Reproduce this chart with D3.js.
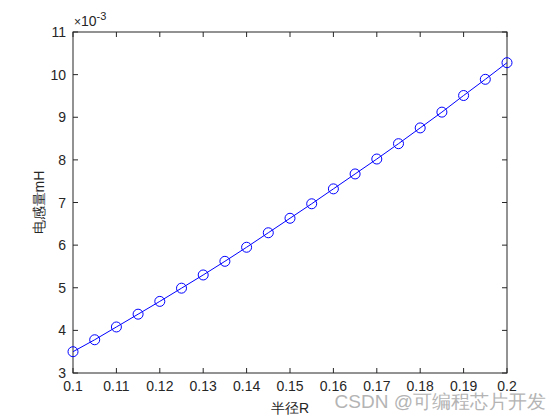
<!DOCTYPE html>
<html>
<head>
<meta charset="utf-8">
<script src="https://cdn.jsdelivr.net/npm/d3@7"></script>
<style>
  body { margin: 0; background: #fff; }
  text { font-family: "Liberation Sans", Arial, sans-serif; }
</style>
</head>
<body>
<svg id="chart" width="560" height="420"></svg>
<script>
const radius = [0.1, 0.105, 0.11, 0.115, 0.12, 0.125, 0.13, 0.135, 0.14, 0.145, 0.15,
  0.155, 0.16, 0.165, 0.17, 0.175, 0.18, 0.185, 0.19, 0.195, 0.2];
// inductance in units of 1e-3
const inductance = [3.50, 3.78, 4.08, 4.38, 4.68, 4.99, 5.30, 5.62, 5.95, 6.29, 6.63,
  6.97, 7.32, 7.67, 8.02, 8.38, 8.75, 9.12, 9.51, 9.89, 10.28];
const xTicks = [0.1, 0.11, 0.12, 0.13, 0.14, 0.15, 0.16, 0.17, 0.18, 0.19, 0.2];
const yTicks = [3, 4, 5, 6, 7, 8, 9, 10, 11];

const svg = d3.select('#chart');
const plotL = 73, plotR = 507, plotT = 32, plotB = 373;

const x = d3.scaleLinear().domain([0.1, 0.2]).range([plotL, plotR]);
const y = d3.scaleLinear().domain([3, 11]).range([plotB, plotT]);

const tickLen = 5;
const axisColor = '#262626';

// box
svg.append('rect')
  .attr('x', plotL).attr('y', plotT)
  .attr('width', plotR - plotL).attr('height', plotB - plotT)
  .attr('fill', 'none').attr('stroke', axisColor).attr('stroke-width', 1);

// x ticks (bottom and top, inward)
xTicks.forEach(t => {
  svg.append('line')
    .attr('x1', x(t)).attr('x2', x(t))
    .attr('y1', plotB).attr('y2', plotB - tickLen)
    .attr('stroke', axisColor);
  svg.append('line')
    .attr('x1', x(t)).attr('x2', x(t))
    .attr('y1', plotT).attr('y2', plotT + tickLen)
    .attr('stroke', axisColor);
  svg.append('text')
    .attr('x', x(t)).attr('y', plotB + 18)
    .attr('text-anchor', 'middle')
    .attr('font-size', 14).attr('fill', axisColor)
    .text(d3.format('')(t));
});

// y ticks (left and right, inward)
yTicks.forEach(t => {
  svg.append('line')
    .attr('x1', plotL).attr('x2', plotL + tickLen)
    .attr('y1', y(t)).attr('y2', y(t))
    .attr('stroke', axisColor);
  svg.append('line')
    .attr('x1', plotR).attr('x2', plotR - tickLen)
    .attr('y1', y(t)).attr('y2', y(t))
    .attr('stroke', axisColor);
  svg.append('text')
    .attr('x', plotL - 7).attr('y', y(t) + 5)
    .attr('text-anchor', 'end')
    .attr('font-size', 14).attr('fill', axisColor)
    .text(t);
});

// exponent label
const exp = svg.append('text')
  .attr('x', plotL + 1).attr('y', plotT - 6)
  .attr('font-size', 14).attr('fill', axisColor);
exp.append('tspan').attr('font-size', 12).text('\u00d7');
exp.append('tspan').text('10');
exp.append('tspan').attr('dy', -6).attr('font-size', 11).text('-3');

// line and markers
const pts = radius.map((r, i) => [r, inductance[i]]);
svg.append('path')
  .datum(pts)
  .attr('fill', 'none')
  .attr('stroke', '#0000ff')
  .attr('stroke-width', 1)
  .attr('d', d3.line().x(d => x(d[0])).y(d => y(d[1])));

svg.selectAll('circle')
  .data(pts)
  .enter()
    .append('circle')
    .attr('cx', d => x(d[0]))
    .attr('cy', d => y(d[1]))
    .attr('r', 5)
    .attr('fill', 'none')
    .attr('stroke', '#0000ff')
    .attr('stroke-width', 1);

// axis labels
svg.append('text')
  .attr('x', (plotL + plotR) / 2).attr('y', 413)
  .attr('text-anchor', 'middle')
  .attr('font-size', 14).attr('fill', axisColor)
  .attr('font-family', '"Noto Sans CJK SC", sans-serif')
  .text('半径R');

svg.append('text')
  .attr('transform', `translate(44, ${(plotT + plotB) / 2}) rotate(-90)`)
  .attr('text-anchor', 'middle')
  .attr('font-size', 14).attr('fill', axisColor)
  .attr('font-family', '"Noto Sans CJK SC", sans-serif')
  .text('电感量mH');

// watermark
svg.append('text')
  .attr('x', 546).attr('y', 408)
  .attr('text-anchor', 'end')
  .attr('font-size', 19).attr('fill', '#b4b4b4')
  .attr('font-family', '"Noto Sans CJK SC", sans-serif')
  .text('CSDN @可编程芯片开发');
</script>
</body>
</html>
